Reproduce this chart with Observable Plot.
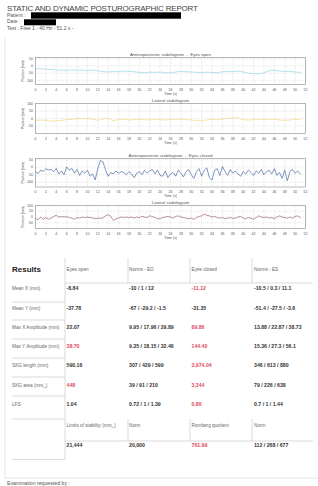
<!DOCTYPE html>
<html><head><meta charset="utf-8">
<script src="https://cdn.jsdelivr.net/npm/d3@7"></script>
<script src="https://cdn.jsdelivr.net/npm/@observablehq/plot@0.6"></script>
<style>
body{margin:0;background:#fff;font-family:"Liberation Sans",Arial,sans-serif;}
#page{position:relative;width:318px;height:486px;overflow:hidden;background:#fff;}
.chart{position:absolute;left:0;}
#bg{position:absolute;left:0;top:0;}
</style></head><body><div id="page"></div>
<script>
// ---------- data ----------
const reportTitle = "STATIC AND DYNAMIC POSTUROGRAPHIC REPORT";
const patientLabel = "Patient :";
const dateLabel = "Date :";
const testLabel = "Test : Free 1 - 40 Hz - 51.2 s -";
const footerLabel = "Examination requested by :";

const xTicks = [0,2,4,6,8,10,12,14,16,18,20,22,24,26,28,30,32,34,36,38,40,42,44,46,48,50,52];
const apTicks = [50,0,-50,-100];
const latTicks = [100,50,0,-50];

const tOpen = [0,1,2,3,4,5,6,7,8,9,10,11,12,13,14,15,16,17,18,19,20,21,22,23,24,25,26,27,28,29,30,31,32,33,34,35,36,37,38,39,40,41,42,43,44,45,46,47,48,49,50,51];
const apOpen = [-18,-20,-22,-25,-28,-30,-30,-27,-30,-28,-32,-28,-33,-40,-42,-38,-40,-35,-38,-40,-45,-48,-43,-45,-42,-47,-48,-42,-38,-40,-42,-44,-46,-43,-45,-47,-40,-38,-40,-35,-42,-50,-53,-55,-48,-33,-30,-35,-38,-37,-42,-45];
const latOpen = [-13,-10,-12,-18,-15,-12,-8,-5,0,-2,0,-5,-12,-3,2,-15,-8,-5,-10,-8,-5,-8,-10,-5,-8,-10,-5,-8,-3,-8,-10,-12,-16,-10,-5,-8,-3,0,3,5,-8,-10,-8,-6,-5,-8,-5,-10,-12,-10,-5,-8];

const tClosed = [0,0.5,1,1.5,2,2.5,3,3.5,4,4.5,5,5.5,6,6.5,7,7.5,8,8.5,9,9.5,10,10.5,11,11.5,12,12.5,13,13.5,14,14.5,15,15.5,16,16.5,17,17.5,18,18.5,19,19.5,20,20.5,21,21.5,22,22.5,23,23.5,24,24.5,25,25.5,26,26.5,27,27.5,28,28.5,29,29.5,30,30.5,31,31.5,32,32.5,33,33.5,34,34.5,35,35.5,36,36.5,37,37.5,38,38.5,39,39.5,40,40.5,41,41.5,42,42.5,43,43.5,44,44.5,45,45.5,46,46.5,47,47.5,48,48.5,49,49.5,50,50.5,51];
const apClosed = [-30,-42,-20,-28,-10,-18,-15,-30,-8,-45,-25,-50,2,-20,-8,-40,-15,-55,-25,-40,-20,-60,-45,-85,-10,45,35,-20,-60,-35,-45,-25,-40,-30,-35,-50,-30,-45,-70,-40,-30,-50,-20,-40,-25,-15,-45,-20,-55,-60,-25,-70,-45,-35,-60,-20,-40,-65,-30,-15,-50,-75,-30,-10,-60,-20,-5,-70,-85,-20,-10,-55,5,-30,-55,-15,-40,-25,-45,-60,-30,-45,-20,-35,-55,-25,-40,-15,-50,-30,-20,-45,-10,-55,-35,-75,-20,-90,-30,-15,-40,-25,-45];
const latClosed = [-10,-25,0,-20,-5,-20,-10,5,15,0,5,0,3,-5,-10,-20,-5,-10,0,-5,0,-5,-8,-15,-10,-12,-8,10,20,5,-30,-15,-10,0,-5,0,-5,0,-10,0,-5,5,0,-5,10,5,-5,-15,-15,-5,0,5,0,-10,5,10,0,-5,-10,-15,-10,-20,-5,5,10,25,15,10,0,5,-5,-10,-5,-15,-10,-5,-12,-10,0,5,-10,-15,-5,-10,-20,-5,10,0,-5,0,-10,-5,-15,0,10,0,-5,-10,0,-10,5,10,-5];

const chartTitles = ["Anteroposterior stabilogram  -  Eyes open","Lateral stabilogram","Anteroposterior stabilogram  -  Eyes closed","Lateral stabilogram"];
const seriesColors = ["#86cfe0","#f0d06a","#4a6c9c","#8e4c5e"];

const resultsLabel = "Results";
const headerCols = ["Eyes open","Norms - EO","Eyes closed","Norms - ES"];
const rowLabels = ["Mean X (mm)","Mean Y (mm)","Max X Amplitude (mm)","Max Y Amplitude (mm)","SKG length (mm)","SKG area (mm_)","LFS"];
const eyesOpen = ["-8.84","-37.78","22.07","38.70","590.16","448","1.04"];
const normsEO = ["-10 / 1 / 12","-67 / -29.2 / -1.5","9.95 / 17.96 / 29.89","9.35 / 18.15 / 32.46","307 / 429 / 599","39 / 91 / 210","0.72 / 1 / 1.39"];
const eyesClosed = ["-11.12","-31.35","89.86","144.40","3,974.04","3,344","0.86"];
const normsEC = ["-10.5 / 0.3 / 11.1","-51.4 / -27.5 / -3.6","13.88 / 22.87 / 38.73","15.36 / 27.3 / 56.1","346 / 613 / 880","79 / 226 / 638","0.7 / 1 / 1.44"];
const flagOpen = [false,false,false,true,false,true,false];
const flagClosed = [true,false,true,true,true,true,true];
const header2Cols = ["Limits of stability (mm_)","Norm","Romberg quotient","Norm"];
const values2 = ["21,444","20,000","761.99","112 / 268 / 677"];
const flag2 = [false,false,true,false];

// ---------- layout ----------
const FONT = "Liberation Sans, Arial, sans-serif";
const page = document.getElementById("page");
const RED = "#e2485e";

const bg = d3.select(page).append("svg").attr("id","bg").attr("width",318).attr("height",486)
  .style("font-family", FONT);

function txt(x, yc, s, size, o = {}) {
  const t = bg.append("text").attr("x", x).attr("y", yc + 0.36 * size)
    .attr("font-size", size).attr("fill", o.fill || "#555").text(s);
  if (o.bold) t.attr("font-weight", "bold");
  if (o.ls) t.attr("letter-spacing", o.ls);
  return t;
}
function line(x1, y1, x2, y2, c = "#c4c4c4", w = 0.6) {
  bg.append("line").attr("x1", x1).attr("y1", y1).attr("x2", x2).attr("y2", y2)
    .attr("stroke", c).attr("stroke-width", w);
}

// header
txt(7, 7.8, reportTitle, 8, {fill: "#444", ls: -0.2});
txt(7, 15.3, patientLabel, 5, {fill: "#555"});
bg.append("rect").attr("x", 31).attr("y", 12.3).attr("width", 150).attr("height", 6.4).attr("fill", "#000");
txt(7, 21.5, dateLabel, 5, {fill: "#555"});
bg.append("rect").attr("x", 24).attr("y", 19.3).attr("width", 32).attr("height", 6).attr("fill", "#000");
txt(7, 28, testLabel, 5, {fill: "#555"});

// page frame
line(5, 38, 5, 478, "#dcdcdc", 0.7);
line(5, 478, 318, 478, "#dcdcdc", 0.7);

// table
const colX = [66.5, 129, 191.5, 254];
const rowY = [288.5, 308, 327.5, 346.5, 365.5, 385, 404.5];
const rowLineY = [302, 320, 339, 358, 377, 396, 419];
txt(12, 269.5, resultsLabel, 8, {fill: "#222", bold: true});
headerCols.forEach((h, i) => txt(colX[i], 269.5, h, 4.7, {fill: "#666"}));
line(65, 258, 65, 460);
[128, 190, 252].forEach(x => line(x, 258, x, 283));
line(65, 283, 313, 283);
rowLabels.forEach((lab, i) => {
  const y = rowY[i];
  txt(12, y, lab, 4.7, {fill: "#666"});
  txt(colX[0], y, eyesOpen[i], 5.2, {fill: flagOpen[i] ? RED : "#333", bold: true});
  txt(colX[1], y, normsEO[i], 5.2, {fill: "#333", bold: true});
  txt(colX[2], y, eyesClosed[i], 5.2, {fill: flagClosed[i] ? RED : "#333", bold: true});
  txt(colX[3], y, normsEC[i], 5.2, {fill: "#333", bold: true});
  line(12, rowLineY[i], 65, rowLineY[i]);
});
header2Cols.forEach((h, i) => txt(colX[i], 425.5, h, 4.7, {fill: "#666"}));
[128, 190, 252].forEach(x => line(x, 419, x, 441));
line(65, 441, 313, 441);
values2.forEach((v, i) => txt(colX[i], 445.5, v, 5.2, {fill: flag2[i] ? RED : "#333", bold: true}));
line(12, 459.5, 65, 459.5);
txt(7, 483, footerLabel, 5.2, {fill: "#555"});

// charts
function stabilogram(cfg) {
  const mt = 10, mb = 14;
  const data = cfg.times.map((t, i) => ({t, v: cfg.values[i]}));
  const fmt = d => String(d);
  const p = Plot.plot({
    width: 318, height: mt + cfg.frameH + mb,
    marginTop: mt, marginBottom: mb, marginLeft: 35, marginRight: 13,
    style: {fontFamily: FONT, fontSize: "3.5px", color: "#555", background: "transparent", overflow: "visible"},
    x: {domain: [0, 52]},
    y: {domain: cfg.yDomain},
    marks: [
      Plot.ruleX(xTicks, {stroke: "#cfcfcf", strokeWidth: 0.5, strokeDasharray: "1,1"}),
      Plot.ruleY(cfg.yTicks, {stroke: "#cfcfcf", strokeWidth: 0.5, strokeDasharray: "1,1"}),
      Plot.line(data, {x: "t", y: "v", stroke: cfg.color, strokeWidth: cfg.sw}),
      Plot.frame({stroke: "#9a9a9a", strokeWidth: 0.7}),
      Plot.axisX(xTicks, {tickSize: 0, tickPadding: 3.5, label: null, tickFormat: fmt}),
      Plot.axisY(cfg.yTicks, {tickSize: 0, tickPadding: 2.5, label: null, tickFormat: fmt}),
      Plot.text([cfg.title], {frameAnchor: "top", dy: -3.2, lineAnchor: "middle", fontSize: 4.4, fill: "#555"}),
      Plot.text(["Time (s)"], {frameAnchor: "bottom", dy: 9, lineAnchor: "middle", fontSize: 3.5, fill: "#555"}),
      Plot.text(["Position (mm)"], {frameAnchor: "left", dx: -13, rotate: -90, textAnchor: "middle", lineAnchor: "middle", fontSize: 3.5, fill: "#555"})
    ]
  });
  const div = document.createElement("div");
  div.className = "chart";
  div.style.top = (cfg.frameTop - mt) + "px";
  div.appendChild(p);
  page.appendChild(div);
}

stabilogram({frameTop: 56.5, frameH: 27, times: tOpen, values: apOpen, color: seriesColors[0], sw: 0.6, title: chartTitles[0], yDomain: [-128, 58], yTicks: apTicks});
stabilogram({frameTop: 103, frameH: 30, times: tOpen, values: latOpen, color: seriesColors[1], sw: 0.6, title: chartTitles[1], yDomain: [-100, 100], yTicks: latTicks});
stabilogram({frameTop: 158, frameH: 28.5, times: tClosed, values: apClosed, color: seriesColors[2], sw: 0.7, title: chartTitles[2], yDomain: [-132, 58], yTicks: apTicks});
stabilogram({frameTop: 204.5, frameH: 23, times: tClosed, values: latClosed, color: seriesColors[3], sw: 0.6, title: chartTitles[3], yDomain: [-100, 100], yTicks: latTicks});
</script></body></html>
